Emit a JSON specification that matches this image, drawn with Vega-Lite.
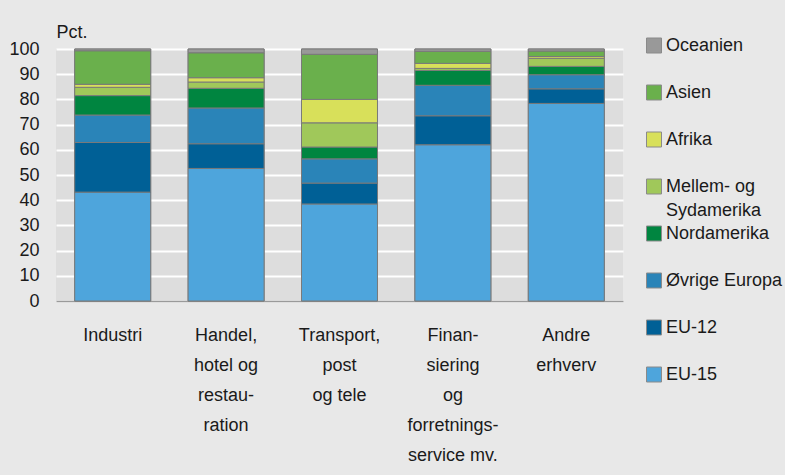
{
  "$schema": "https://vega.github.io/schema/vega-lite/v6.json",
  "width": 567,
  "height": 252,
  "autosize": "none",
  "padding": {"left": 56, "top": 49, "right": 162, "bottom": 174},
  "background": "#e8e8e8",
  "config": {
    "font": "Liberation Sans",
    "view": {"fill": "#dddddd", "stroke": null},
    "style": {"guide-label": {"lineHeight": 24}},
    "legend": {
      "title": null,
      "orient": "none",
      "padding": 0,
      "symbolType": "square",
      "symbolSize": 225,
      "symbolStrokeColor": "#8a8a8a",
      "symbolStrokeWidth": 1,
      "symbolOpacity": 1,
      "labelFontSize": 18,
      "labelColor": "#1a1a1a",
      "labelOffset": 3,
      "labelLimit": 200,
      "clipHeight": 17,
      "rowPadding": 28
    }
  },
  "data": {
    "values": [
      {"sector": "Industri", "region": "EU-15", "rank": 1, "pct": 43.2},
      {"sector": "Industri", "region": "EU-12", "rank": 2, "pct": 19.7},
      {"sector": "Industri", "region": "Øvrige Europa", "rank": 3, "pct": 10.9},
      {"sector": "Industri", "region": "Nordamerika", "rank": 4, "pct": 7.7},
      {"sector": "Industri", "region": "Mellem- og Sydamerika", "rank": 5, "pct": 3.3},
      {"sector": "Industri", "region": "Afrika", "rank": 6, "pct": 1.2},
      {"sector": "Industri", "region": "Asien", "rank": 7, "pct": 13.3},
      {"sector": "Industri", "region": "Oceanien", "rank": 8, "pct": 0.7},
      {"sector": "Handel,|hotel og|restau-|ration", "region": "EU-15", "rank": 1, "pct": 52.6},
      {"sector": "Handel,|hotel og|restau-|ration", "region": "EU-12", "rank": 2, "pct": 9.8},
      {"sector": "Handel,|hotel og|restau-|ration", "region": "Øvrige Europa", "rank": 3, "pct": 14.2},
      {"sector": "Handel,|hotel og|restau-|ration", "region": "Nordamerika", "rank": 4, "pct": 7.8},
      {"sector": "Handel,|hotel og|restau-|ration", "region": "Mellem- og Sydamerika", "rank": 5, "pct": 2.5},
      {"sector": "Handel,|hotel og|restau-|ration", "region": "Afrika", "rank": 6, "pct": 1.7},
      {"sector": "Handel,|hotel og|restau-|ration", "region": "Asien", "rank": 7, "pct": 9.9},
      {"sector": "Handel,|hotel og|restau-|ration", "region": "Oceanien", "rank": 8, "pct": 1.5},
      {"sector": "Transport,|post|og tele", "region": "EU-15", "rank": 1, "pct": 38.5},
      {"sector": "Transport,|post|og tele", "region": "EU-12", "rank": 2, "pct": 8.3},
      {"sector": "Transport,|post|og tele", "region": "Øvrige Europa", "rank": 3, "pct": 9.6},
      {"sector": "Transport,|post|og tele", "region": "Nordamerika", "rank": 4, "pct": 4.7},
      {"sector": "Transport,|post|og tele", "region": "Mellem- og Sydamerika", "rank": 5, "pct": 9.6},
      {"sector": "Transport,|post|og tele", "region": "Afrika", "rank": 6, "pct": 9.3},
      {"sector": "Transport,|post|og tele", "region": "Asien", "rank": 7, "pct": 17.9},
      {"sector": "Transport,|post|og tele", "region": "Oceanien", "rank": 8, "pct": 2.1},
      {"sector": "Finan-|siering|og|forretnings-|service mv.", "region": "EU-15", "rank": 1, "pct": 62.0},
      {"sector": "Finan-|siering|og|forretnings-|service mv.", "region": "EU-12", "rank": 2, "pct": 11.5},
      {"sector": "Finan-|siering|og|forretnings-|service mv.", "region": "Øvrige Europa", "rank": 3, "pct": 12.1},
      {"sector": "Finan-|siering|og|forretnings-|service mv.", "region": "Nordamerika", "rank": 4, "pct": 5.9},
      {"sector": "Finan-|siering|og|forretnings-|service mv.", "region": "Mellem- og Sydamerika", "rank": 5, "pct": 0.8},
      {"sector": "Finan-|siering|og|forretnings-|service mv.", "region": "Afrika", "rank": 6, "pct": 2.0},
      {"sector": "Finan-|siering|og|forretnings-|service mv.", "region": "Asien", "rank": 7, "pct": 4.8},
      {"sector": "Finan-|siering|og|forretnings-|service mv.", "region": "Oceanien", "rank": 8, "pct": 0.9},
      {"sector": "Andre|erhverv", "region": "EU-15", "rank": 1, "pct": 78.4},
      {"sector": "Andre|erhverv", "region": "EU-12", "rank": 2, "pct": 5.8},
      {"sector": "Andre|erhverv", "region": "Øvrige Europa", "rank": 3, "pct": 5.6},
      {"sector": "Andre|erhverv", "region": "Nordamerika", "rank": 4, "pct": 3.3},
      {"sector": "Andre|erhverv", "region": "Mellem- og Sydamerika", "rank": 5, "pct": 3.2},
      {"sector": "Andre|erhverv", "region": "Afrika", "rank": 6, "pct": 0.7},
      {"sector": "Andre|erhverv", "region": "Asien", "rank": 7, "pct": 2.2},
      {"sector": "Andre|erhverv", "region": "Oceanien", "rank": 8, "pct": 0.8}
    ]
  },
  "encoding": {
    "x": {
      "field": "sector",
      "type": "nominal",
      "sort": null,
      "scale": {"paddingInner": 0.33, "paddingOuter": 0.165},
      "axis": {
        "title": null,
        "labelAngle": 0,
        "labelExpr": "split(datum.value, '|')",
        "labelFontSize": 18,
        "labelColor": "#1a1a1a",
        "labelLineHeight": 30,
        "labelBaseline": "top",
        "labelPadding": 25,
        "ticks": false,
        "domain": true,
        "domainColor": "#9a9a9a",
        "domainWidth": 1.5,
        "grid": false
      }
    },
    "y": {
      "field": "pct",
      "type": "quantitative",
      "stack": "zero",
      "scale": {"domain": [0, 100], "nice": false},
      "axis": {
        "title": "Pct.",
        "titleAngle": 0,
        "titleX": 0,
        "titleY": -12,
        "titleAlign": "left",
        "titleBaseline": "alphabetic",
        "titleFontSize": 18,
        "titleFontWeight": "normal",
        "titleColor": "#1a1a1a",
        "values": [0, 10, 20, 30, 40, 50, 60, 70, 80, 90, 100],
        "labelFontSize": 18,
        "labelColor": "#1a1a1a",
        "labelPadding": 17,
        "ticks": false,
        "domain": false,
        "grid": true,
        "gridColor": "#ffffff",
        "gridWidth": 2
      }
    },
    "order": {"field": "rank", "sort": "ascending"}
  },
  "layer": [
    {
      "mark": {"type": "bar", "stroke": "#7a7a7a", "strokeWidth": 1},
      "encoding": {
        "color": {
          "field": "region",
          "type": "nominal",
          "scale": {
            "domain": ["Oceanien", "Asien", "Afrika", "Mellem- og Sydamerika", "Nordamerika", "Øvrige Europa", "EU-12", "EU-15"],
            "range": ["#999999", "#6ab04c", "#d8e05a", "#a0c85a", "#008540", "#2a84b8", "#006096", "#4ea5dc"]
          },
          "legend": {
            "values": ["Oceanien", "Asien", "Afrika", "Mellem- og Sydamerika"],
            "legendX": 589,
            "legendY": -12,
            "labelExpr": "datum.value == 'Mellem- og Sydamerika' ? ['Mellem- og', 'Sydamerika'] : datum.value"
          }
        }
      }
    },
    {
      "mark": {"type": "bar", "stroke": "#7a7a7a", "strokeWidth": 1},
      "encoding": {
        "fill": {
          "field": "region",
          "type": "nominal",
          "scale": {
            "domain": ["EU-15", "EU-12", "Øvrige Europa", "Nordamerika", "Mellem- og Sydamerika", "Afrika", "Asien", "Oceanien"],
            "range": ["#4ea5dc", "#006096", "#2a84b8", "#008540", "#a0c85a", "#d8e05a", "#6ab04c", "#999999"]
          },
          "legend": {
            "values": ["Nordamerika", "Øvrige Europa", "EU-12", "EU-15"],
            "legendX": 589,
            "legendY": 176
          }
        }
      }
    }
  ]
}
